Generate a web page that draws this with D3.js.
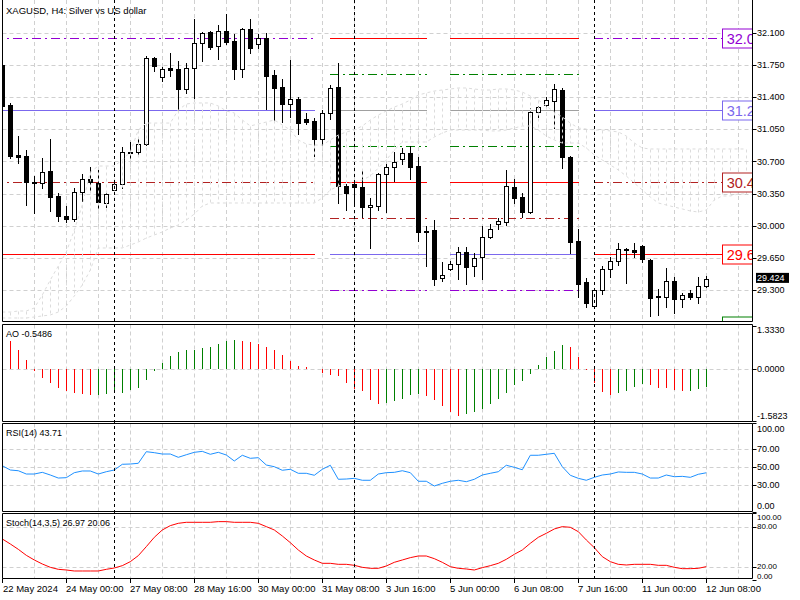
<!DOCTYPE html>
<html><head><meta charset="utf-8">
<script src="https://cdn.jsdelivr.net/npm/d3@7"></script>
<style>
body{margin:0;background:#fff}
svg{display:block}
text{font-family:'Liberation Sans',Arial,sans-serif;fill:#000}
</style></head>
<body><svg id="c" width="800" height="600"></svg>
<script>
// ---------------- DATA ----------------
const title = "XAGUSD, H4:  Silver vs US dollar";
const tickBars = [0,8,16,24,32,40,48,56,64,72,80,88];
const tickLabels = ["22 May 2024","24 May 00:00","27 May 08:00","28 May 16:00","30 May 00:00","31 May 08:00","3 Jun 16:00","5 Jun 00:00","6 Jun 08:00","7 Jun 16:00","11 Jun 00:00","12 Jun 08:00"];
const weekStartBars = [14,44,74];
const priceTicks = [32.1,31.75,31.4,31.05,30.7,30.35,30.0,29.65,29.3];

const open = [31.749,31.314,30.770,30.759,30.477,30.463,30.596,30.325,30.104,30.075,
30.365,30.506,30.469,30.252,30.390,30.452,30.806,30.800,30.887,31.822,
31.615,31.713,31.702,31.484,31.713,31.985,32.108,31.952,32.119,32.010,
31.702,32.137,31.974,32.039,31.640,31.506,31.321,31.379,31.162,31.140,
30.941,31.224,31.513,30.433,30.455,30.419,30.202,30.216,30.560,30.637,
30.724,30.789,30.651,29.947,29.955,29.430,29.528,29.582,29.713,29.564,
29.665,29.882,30.017,30.045,30.426,30.310,30.147,31.234,31.314,31.360,
31.477,30.752,29.835,29.387,29.129,29.303,29.528,29.621,29.749,29.738,
29.781,29.629,29.238,29.230,29.404,29.205,29.267,29.224,29.350];
const high = [31.760,31.335,30.977,30.825,30.537,30.741,30.944,30.360,30.216,30.408,
30.564,30.643,30.607,30.382,30.488,30.861,30.908,30.944,31.847,31.839,
31.730,31.879,31.792,31.774,32.249,32.108,32.119,32.184,32.300,32.086,
32.148,32.249,32.091,32.096,31.694,31.593,31.803,31.397,31.224,31.169,
31.259,31.531,31.774,30.455,30.477,30.607,30.300,30.571,30.672,30.800,
30.843,30.871,30.752,29.999,30.064,29.607,29.618,29.770,29.776,29.705,
30.004,30.020,30.085,30.607,30.509,30.360,31.278,31.306,31.404,31.539,
31.502,30.759,29.963,29.437,29.325,29.564,29.658,29.817,29.765,29.811,
29.792,29.637,29.310,29.539,29.447,29.274,29.303,29.447,29.455];
const low = [31.303,30.738,30.683,30.227,30.145,30.415,30.165,30.053,30.045,30.053,
30.273,30.374,30.197,30.208,30.363,30.415,30.716,30.770,30.884,31.687,
31.578,31.632,31.259,31.447,31.395,31.796,31.923,31.814,31.977,31.593,
31.621,31.879,31.934,31.274,31.145,31.132,31.187,30.995,31.104,30.759,
30.879,31.162,30.245,30.172,30.227,30.096,29.765,30.172,30.147,30.491,
30.669,30.509,29.839,29.564,29.357,29.401,29.520,29.422,29.368,29.455,
29.422,29.868,29.966,30.009,30.252,30.100,30.137,31.187,31.278,31.060,
30.632,29.702,29.230,29.115,29.124,29.256,29.447,29.575,29.379,29.665,
29.604,29.020,29.031,29.121,29.056,29.115,29.202,29.165,29.339];
const close = [31.306,30.759,30.754,30.477,30.466,30.582,30.317,30.110,30.078,30.365,
30.506,30.474,30.263,30.350,30.455,30.800,30.795,30.887,31.822,31.741,
31.702,31.698,31.484,31.713,31.985,32.094,31.948,32.119,31.996,31.702,
32.137,31.934,32.039,31.632,31.502,31.321,31.376,31.121,31.132,30.941,
31.224,31.502,30.437,30.360,30.419,30.200,30.227,30.560,30.637,30.691,
30.789,30.643,29.937,29.944,29.419,29.466,29.582,29.713,29.556,29.654,
29.882,29.971,30.050,30.433,30.306,30.154,31.234,31.295,31.368,31.484,
30.752,29.828,29.368,29.165,29.300,29.528,29.621,29.745,29.738,29.713,
29.637,29.219,29.230,29.404,29.202,29.245,29.224,29.350,29.424];

// Ichimoku cloud (spans, extended 5 bars past the last candle)
const spanA = [29.064,29.064,29.075,29.075,29.108,29.249,29.412,29.564,29.716,29.955,
30.227,30.586,30.651,30.651,30.651,30.716,30.803,31.042,31.118,31.118,
31.118,31.118,31.260,31.325,31.336,31.336,31.336,31.303,31.249,31.227,
31.151,31.086,31.108,31.129,31.151,31.097,31.042,30.934,30.890,30.879,
30.879,30.934,30.988,31.021,31.042,31.086,31.151,31.205,31.249,31.292,
31.325,31.368,31.423,31.445,31.466,31.477,31.488,31.499,31.499,31.488,
31.477,31.477,31.488,31.488,31.477,31.455,31.412,31.368,31.303,31.238,
31.184,31.118,31.064,31.053,31.042,31.042,31.032,31.021,30.977,30.901,
30.847,30.836,30.836,30.836,30.836,30.836,30.836,30.836,30.836,30.836,
30.836,30.836,30.836,30.836];
const spanB = [28.999,28.999,28.999,28.999,29.010,29.021,29.032,29.064,29.129,29.238,
29.358,29.521,29.760,29.760,29.760,29.760,29.792,29.825,29.868,29.901,
29.934,29.977,30.010,30.064,30.129,30.216,30.249,30.249,30.249,30.249,
30.249,30.249,30.249,30.249,30.249,30.249,30.249,30.249,30.249,30.249,
30.303,30.390,30.434,30.455,30.477,30.499,30.542,30.629,30.716,30.825,
30.912,30.912,30.912,30.912,30.966,31.010,31.042,31.042,31.042,31.042,
31.042,31.032,31.032,31.042,31.064,31.086,31.086,31.042,30.977,30.934,
30.901,30.901,30.901,30.847,30.771,30.716,30.662,30.608,30.542,30.466,
30.390,30.314,30.249,30.227,30.205,30.184,30.162,30.151,30.173,30.282,
30.325,30.325,30.347,30.347];

// Pivot levels
const weeklyLevels = [32.039,31.259,30.474,29.691];
const weeklyRanges = [[-1,39],[74,90]];
const dailyLevels = [32.039,31.651,31.259,30.868,30.474,30.082,29.691,29.300];
const dailyRanges = [[41,53],[56,72]];
const levelTags = [32.039,31.259,30.474,29.691,28.917];

// Indicators
const ao = [1.12,0.86,0.57,0.26,-0.07,-0.29,-0.42,-0.57,-0.68,-0.73,
-0.77,-0.81,-0.80,-0.77,-0.75,-0.73,-0.66,-0.57,-0.33,-0.07,
0.18,0.39,0.51,0.57,0.59,0.64,0.68,0.76,0.85,0.88,
0.85,0.84,0.78,0.68,0.57,0.42,0.24,0.10,0.05,-0.01,
-0.11,-0.18,-0.23,-0.44,-0.63,-0.68,-0.96,-1.07,-1.04,-0.99,
-0.92,-0.79,-0.76,-0.83,-0.96,-1.15,-1.33,-1.43,-1.39,-1.32,
-1.22,-1.07,-0.92,-0.73,-0.50,-0.37,-0.16,0.13,0.36,0.54,
0.73,0.66,0.36,-0.03,-0.44,-0.70,-0.80,-0.73,-0.68,-0.54,
-0.47,-0.49,-0.57,-0.58,-0.65,-0.68,-0.67,-0.61,-0.5486];
const aoRange = [-1.5823,1.3330];
const rsi = [51.6,46.8,46.0,42.3,42.3,44.2,41.2,37.8,38.2,43.8,
45.7,45.7,42.3,44.9,46.8,53.2,53.5,54.3,67.3,66.2,
64.7,64.7,61.0,63.9,66.6,67.7,64.4,66.6,63.6,56.9,
63.3,59.9,60.6,52.4,50.5,46.5,47.6,43.1,43.1,40.9,
47.6,52.1,36.4,36.7,37.5,35.3,35.3,42.3,43.8,44.2,
46.0,43.8,34.2,34.2,28.9,31.9,34.2,35.3,33.7,36.4,
41.2,43.1,44.9,52.1,49.8,47.1,63.3,63.3,64.4,65.5,
50.5,40.9,37.5,35.3,38.6,41.2,42.3,44.6,44.2,44.2,
42.3,37.8,37.8,41.2,39.3,39.7,38.6,42.0,43.71];
const stochSignal = [61.5,54,46,37,30,24,19,16,15,13.5,
13.5,13.5,13.5,16,18,21.5,27.5,36.5,50,64,
75,81.5,85,86.5,86.5,86.5,86.5,87.5,87.5,86.5,
86.5,86.5,85,80,75,66,56,45,36,30,
25,25,23.5,23.5,22,19,17.5,17.5,21,26.5,
30,33.5,36,36,32,26.5,20,17.5,16.5,15,
18.5,21.5,25,31,38.5,45,55,64,70,76.5,
80,79,72.5,60,48.5,35,27.5,23.5,22.5,23.5,
23.5,23.5,22,22,19,17,17,17.5,20.06];
const stochMainLast = 26.97;

// ---------------- LAYOUT ----------------
const svg = d3.select('#c');
const L = 2.5, R = 752.5;
const panes = {
  main: {top: 0, bot: 321.5},
  ao:   {top: 324.5, bot: 421.5},
  rsi:  {top: 423.5, bot: 511.5},
  st:   {top: 513.5, bot: 578.5}
};
const x = d3.scaleLinear().domain([0, 93.75]).range([2.3, 752.3]);
const cx = i => Math.floor(x(i)) + 0.5;
const y = d3.scaleLinear().domain([28.9554, 32.4119]).range([322, 4]);
const py = v => Math.round(y(v)) + 0.5;
const yAO = d3.scaleLinear().domain(aoRange).range([420.5, 325.5]);
const yRSI = d3.scaleLinear().domain([0,100]).range([511.8, 422.5]);
const yST = d3.scaleLinear().domain([0,100]).range([580, 513.3]);

const defs = svg.append('defs');
Object.entries(panes).forEach(([k,p])=>{
  defs.append('clipPath').attr('id','clip_'+k).append('rect')
    .attr('x', L).attr('y', p.top).attr('width', R-L).attr('height', p.bot-p.top);
});

const GRID = '#d0d0d0';
const idx = d3.range(open.length);
const gridBars = d3.range(0, 94, 4);

// grid per pane
Object.entries(panes).forEach(([k,p])=>{
  const g = svg.append('g').attr('clip-path','url(#clip_'+k+')');
  g.selectAll('line').data(gridBars).join('line')
    .attr('x1', cx).attr('x2', cx).attr('y1', p.top).attr('y2', p.bot)
    .attr('stroke', GRID).attr('stroke-dasharray','4,3');
});
function hgrid(vals, sc, k){
  svg.append('g').attr('clip-path','url(#clip_'+k+')')
    .selectAll('line').data(vals).join('line')
    .attr('x1', L).attr('x2', R)
    .attr('y1', v=>Math.round(sc(v))+0.5).attr('y2', v=>Math.round(sc(v))+0.5)
    .attr('stroke', GRID).attr('stroke-dasharray','4,3');
}
hgrid(priceTicks, y, 'main');
hgrid([0], yAO, 'ao');
hgrid([70,50,30], yRSI, 'rsi');
hgrid([80,20], yST, 'st');

// ---------------- MAIN PANE ----------------
const gm = svg.append('g').attr('clip-path','url(#clip_main)');

const DASHDOT = '9,4,2,4';
const weeklyStyle = [
  {c:'#9400D3', d:DASHDOT},{c:'#7B68EE', d:null},{c:'#B22222', d:DASHDOT},{c:'#FF0000', d:null}];
const dailyStyle = [
  {c:'#FF0000', d:null},{c:'#008000', d:DASHDOT},{c:'#A0A0A0', d:null},{c:'#008000', d:DASHDOT},
  {c:'#FF0000', d:null},{c:'#B22222', d:DASHDOT},{c:'#7B68EE', d:null},{c:'#9400D3', d:DASHDOT}];
function drawLevels(levels, ranges, styles){
  ranges.forEach(r=>{
    levels.forEach((v,j)=>{
      gm.append('line')
        .attr('x1', cx(r[0])-0.5).attr('x2', cx(r[1])+0.5)
        .attr('y1', py(v)).attr('y2', py(v))
        .attr('stroke', styles[j].c).attr('stroke-width',1)
        .attr('stroke-dasharray', styles[j].d);
    });
  });
}
drawLevels(weeklyLevels, weeklyRanges, weeklyStyle);
drawLevels(dailyLevels, dailyRanges, dailyStyle);

// candles
gm.selectAll('line.wick').data(idx).join('line').attr('class','wick')
  .attr('x1', cx).attr('x2', cx)
  .attr('y1', i=>py(high[i])-0.5).attr('y2', i=>py(low[i])+0.5)
  .attr('stroke','#000');
gm.selectAll('rect.body').data(idx).join('rect').attr('class','body')
  .attr('x', i=>cx(i)-2).attr('width', 4)
  .attr('y', i=>py(Math.max(open[i],close[i])))
  .attr('height', i=>Math.max(1, py(Math.min(open[i],close[i])) - py(Math.max(open[i],close[i]))))
  .attr('fill', i=> close[i] >= open[i] ? '#fff' : '#000')
  .attr('stroke','#000');

// Ichimoku cloud (faint hatch drawn over the candles)
const CLOUD = '#dcdcdc';
const cIdx = d3.range(spanA.length);
gm.selectAll('line.hatch').data(cIdx).join('line').attr('class','hatch')
  .attr('x1', cx).attr('x2', cx)
  .attr('y1', i=>py(spanA[i])).attr('y2', i=>py(spanB[i]))
  .attr('stroke', CLOUD).attr('stroke-dasharray','3,3');
[spanA, spanB].forEach(s=>{
  gm.append('path').datum(cIdx)
    .attr('d', d3.line().x(i=>x(i)).y(i=>y(s[i])))
    .attr('fill','none').attr('stroke', CLOUD).attr('stroke-dasharray','3,3');
});

// level tags on the right (cut by the price scale)
const tagColors = ['#9400D3','#7B68EE','#B22222','#FF0000','#008000'];
levelTags.forEach((v,j)=>{
  const cy = py(v);
  gm.append('rect').attr('x', 722.5).attr('y', cy-9.5).attr('width', 40).attr('height', 19)
    .attr('fill','#fff').attr('stroke', tagColors[j]);
  gm.append('text').attr('x', 726.7).attr('y', cy+5.2).attr('font-size','14.5px')
    .style('fill', tagColors[j]).text((Math.floor(v*10)/10).toFixed(1));
});

// title
svg.append('text').attr('x', 6).attr('y', 13.5).attr('font-size','9.5px').text(title);

// ---------------- AO ----------------
const ga = svg.append('g').attr('clip-path','url(#clip_ao)');
const z0 = Math.round(yAO(0));
ga.selectAll('line.ao').data(idx).join('line').attr('class','ao')
  .attr('x1', cx).attr('x2', cx)
  .attr('y1', z0).attr('y2', i=>Math.round(yAO(ao[i])))
  .attr('stroke', i=> (i>0 && ao[i] > ao[i-1]) ? '#008000' : '#FF0000');
svg.append('text').attr('x', 6).attr('y', 337).attr('font-size','9px').text('AO ' + ao[ao.length-1].toFixed(4));

// ---------------- RSI ----------------
svg.append('g').attr('clip-path','url(#clip_rsi)').append('path').datum(idx)
  .attr('d', d3.line().x(i=>x(i)).y(i=>yRSI(rsi[i])))
  .attr('fill','none').attr('stroke','#1E90FF').attr('stroke-width',1);
svg.append('text').attr('x', 6).attr('y', 436).attr('font-size','9px').text('RSI(14) ' + rsi[rsi.length-1].toFixed(2));

// ---------------- STOCH ----------------
svg.append('g').attr('clip-path','url(#clip_st)').append('path').datum(idx)
  .attr('d', d3.line().x(i=>x(i)).y(i=>yST(stochSignal[i])))
  .attr('fill','none').attr('stroke','#FF0000').attr('stroke-width',1);
svg.append('text').attr('x', 6).attr('y', 525.5).attr('font-size','9px')
  .text('Stoch(14,3,5) ' + stochMainLast.toFixed(2) + ' ' + stochSignal[stochSignal.length-1].toFixed(2));

// ---------------- SEPARATORS ----------------
svg.append('g').selectAll('line').data(weekStartBars).join('line')
  .attr('x1', cx).attr('x2', cx).attr('y1', 0).attr('y2', 578.5)
  .attr('stroke','#000').attr('stroke-dasharray','3,3');

// ---------------- FRAMES ----------------
Object.values(panes).forEach(p=>{
  const f = svg.append('g').attr('stroke','#000').attr('fill','none');
  if (p.top > 0) f.append('line').attr('x1',L).attr('x2',R).attr('y1',p.top).attr('y2',p.top);
  f.append('line').attr('x1',L).attr('x2',R).attr('y1',p.bot).attr('y2',p.bot);
  f.append('line').attr('x1',L).attr('x2',L).attr('y1',p.top).attr('y2',p.bot);
  f.append('line').attr('x1',R).attr('x2',R).attr('y1',p.top).attr('y2',p.bot);
});

// ---------------- RIGHT AXES ----------------
function rightAxis(vals, sc, p, fmt, fs, pad){
  vals.forEach(v=>{
    const ty = Math.round(sc(v))+0.5;
    const ly = Math.max(p.top+pad[0], Math.min(p.bot-pad[1], sc(v)));
    svg.append('line').attr('x1',R).attr('x2',R+4).attr('y1',ty).attr('y2',ty).attr('stroke','#000');
    svg.append('text').attr('x',757).attr('y',ly).attr('dy','0.35em').attr('font-size',fs).text(fmt(v));
  });
}
rightAxis(priceTicks, y, panes.main, v=>v.toFixed(3), '9px', [5.5,5.5]);
rightAxis([aoRange[1],0,aoRange[0]], yAO, panes.ao, v=>v.toFixed(4), '9px', [5.5,5.5]);
rightAxis([100,70,50,30,0], yRSI, panes.rsi, v=>v.toFixed(2), '9px', [5.5,5.5]);
rightAxis([100,80,20,0], yST, panes.st, v=>v.toFixed(2), '8px', [3.8,2.7]);

// current price tag
const lastP = close[close.length-1];
const lpy = y(lastP) - 1;
svg.append('rect').attr('x',756).attr('y',lpy-5).attr('width',33).attr('height',10).attr('fill','#000');
svg.append('text').attr('x',757).attr('y',lpy).attr('dy','0.35em').attr('font-size','9px')
  .style('fill','#fff').text(lastP.toFixed(3));

// ---------------- TIME AXIS ----------------
tickBars.forEach((b,j)=>{
  svg.append('line').attr('x1',cx(b)).attr('x2',cx(b)).attr('y1',578.5).attr('y2',583)
    .attr('stroke','#000');
  svg.append('text').attr('x', Math.max(3, cx(b)-0.5)).attr('y',592).attr('font-size','9.5px').text(tickLabels[j]);
});
</script></body></html>
